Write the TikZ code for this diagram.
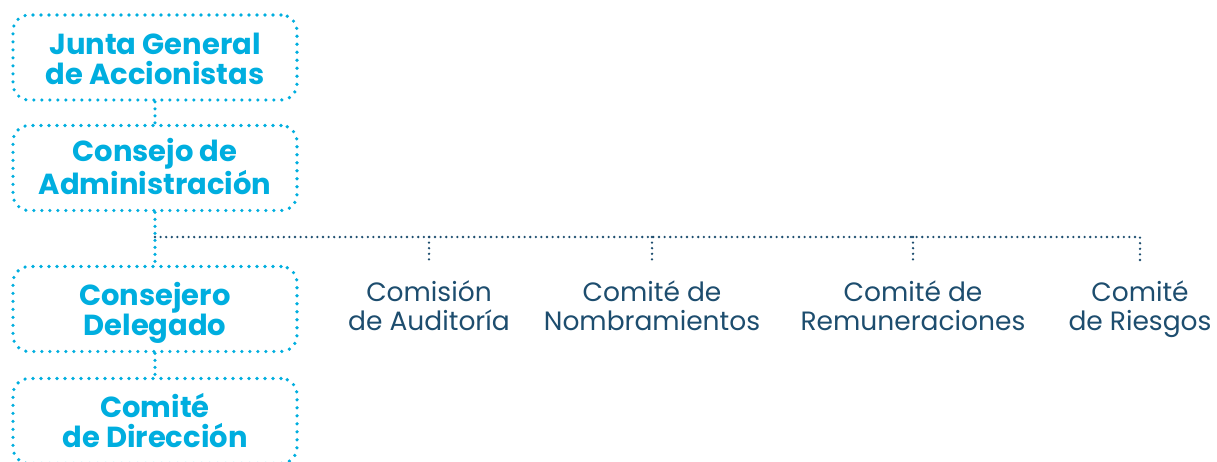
\documentclass[tikz,border=0pt]{standalone}
\usepackage{fontspec}
\setmainfont{Poppins}
\usetikzlibrary{positioning}
\definecolor{orgcyan}{HTML}{00AEDF}
\definecolor{orgnavy}{HTML}{1D4D6E}

\begin{document}
\begin{tikzpicture}[
x=1pt, y=-1pt,
organ/.style = {draw=orgcyan, line width=3.6pt, line cap=round, dash pattern=on 0pt off 8pt,
  rounded corners=16pt, minimum width=284pt, minimum height=85pt, align=center,
  text=orgcyan, font=\fontsize{29}{30}\selectfont\bfseries,
  text height=57pt, text depth=3.4pt},
organ link/.style = {draw=orgcyan, line width=3.6pt, line cap=round, dash pattern=on 0pt off 7pt},
committee/.style = {align=center, inner sep=0pt, text=orgnavy, font=\fontsize{26.5}{28.3}\selectfont,
  text height=56.3pt, text depth=8pt},
committee link/.style = {draw=orgnavy, line width=2.6pt, line cap=round, dash pattern=on 0pt off 5.6pt},
]
\useasboundingbox (0,0) rectangle (1217,461);

\node (junta) [organ] at (155,57.5) {Junta General\\de Accionistas};
\node (consejo) [organ] at (155,168) {Consejo de\\Administración};
\node (delegado) [organ] at (155,309) {Consejero\\Delegado};
\node (direccion) [organ] at (155,421) {Comité\\de Dirección};

\coordinate (bus) at (155,237);
\coordinate (d1) at (429,263);
\coordinate (d2) at (652,263);
\coordinate (d3) at (913,263);
\coordinate (d4) at (1140,263);

\node (auditoria) [committee, below=10.7pt of d1] {Comisión\\de Auditoría};
\node (nombramientos) [committee, below=10.7pt of d2] {Comité de\\Nombramientos};
\node (remuneraciones) [committee, below=10.7pt of d3] {Comité de\\Remuneraciones};
\node (riesgos) [committee, below=10.7pt of d4] {Comité\\de Riesgos};

\draw[organ link] (junta) -- (consejo);
\draw[organ link] (consejo) -- (delegado);
\draw[organ link] (delegado) -- (direccion);

\draw[committee link] (bus) -| (d4);
\draw[committee link] (bus -| d1) -- (d1);
\draw[committee link] (bus -| d2) -- (d2);
\draw[committee link] (bus -| d3) -- (d3);

\end{tikzpicture}
\end{document}
